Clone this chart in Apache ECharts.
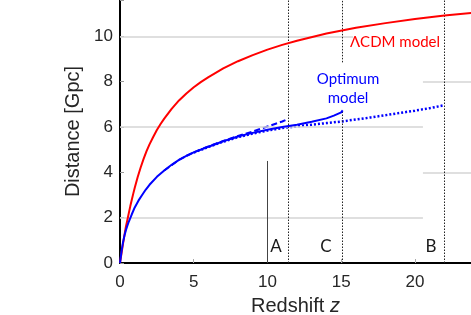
<!DOCTYPE html>
<html>
<head>
<meta charset="utf-8">
<script src="https://cdn.jsdelivr.net/npm/echarts@6/dist/echarts.min.js"></script>
<style>
html,body{margin:0;padding:0;background:#fff;}
#c{width:471px;height:315px;}
</style>
</head>
<body>
<div id="c"></div>
<script>
// ---- data ----
const lcdmZ = [0, 0.1, 0.2, 0.3, 0.4, 0.5, 0.6, 0.7, 0.8, 0.9, 1.0, 1.2, 1.4, 1.6, 1.8, 2.0, 2.25, 2.5, 2.75, 3, 3.5, 4, 4.5, 5, 5.5, 6, 7, 8, 9, 10, 11, 12, 14, 16, 18, 20, 22, 24];
const lcdmD = [0, 0.42, 0.83, 1.22, 1.6, 1.9, 2.21, 2.51, 2.79, 3.06, 3.32, 3.79, 4.21, 4.59, 4.93, 5.23, 5.56, 5.87, 6.13, 6.37, 6.8, 7.17, 7.48, 7.75, 7.99, 8.2, 8.58, 8.9, 9.17, 9.41, 9.62, 9.8, 10.12, 10.38, 10.58, 10.76, 10.92, 11.04];

const optZ = [0, 0.1, 0.2, 0.3, 0.4, 0.5, 0.6, 0.8, 1.0, 1.25, 1.5, 1.75, 2, 2.5, 3, 3.5, 4, 4.5, 5, 6, 7, 8, 9, 10, 11, 12, 13, 14, 14.5, 15, 15.1];
const optD = [0, 0.5, 0.9, 1.2, 1.45, 1.65, 1.83, 2.15, 2.45, 2.75, 3.0, 3.24, 3.45, 3.8, 4.08, 4.33, 4.55, 4.73, 4.88, 5.13, 5.37, 5.58, 5.74, 5.88, 6.0, 6.1, 6.23, 6.38, 6.5, 6.64, 6.73];

const dashZ = [3, 4, 5, 6, 7, 8, 9, 10, 11, 11.3];
const dashD = [4.08, 4.55, 4.88, 5.14, 5.38, 5.6, 5.8, 6.02, 6.24, 6.33];

const dotZ = [5, 6, 7, 8, 9, 10, 11, 12, 13, 14, 15, 16, 17, 18, 19, 20, 21, 22];
const dotD = [4.87, 5.12, 5.35, 5.55, 5.71, 5.84, 5.95, 6.03, 6.1, 6.17, 6.24, 6.33, 6.42, 6.52, 6.62, 6.72, 6.83, 6.96];

// reference lines (data coords)
const gridLeftY = [2, 6, 10];
const gridLeftEnd = [20.54, 20.54, 15.8];
const gridRightY = [4, 8];
const gridRightStart = 20.54;
const dottedV = [[11.4, 0, 11.6], [15.1, 0, 6.75], [15.1, 8.85, 11.6], [22.0, 0, 11.6]];
const solidV = [[10, 0, 4.5]];

const xTicks = [0, 5, 10, 15, 20];
const yTicks = [0, 2, 4, 6, 8, 10];

const zip = (a, b) => a.map((v, i) => [v, b[i]]);
const seg = (x1, y1, x2, y2) => [{coord: [x1, y1]}, {coord: [x2, y2]}];

const gridSegs = gridLeftY.map((y, i) => seg(0, y, gridLeftEnd[i], y))
  .concat(gridRightY.map(y => seg(gridRightStart, y, 23.8, y)));
const dottedSegs = dottedV.map(v => seg(v[0], v[1], v[0], v[2]));
const solidSegs = solidV.map(v => seg(v[0], v[1], v[0], v[2]));

const chart = echarts.init(document.getElementById('c'), null, {renderer: 'canvas'});
const mlBase = {silent: true, symbol: ['none', 'none'], label: {show: false}, animation: false, emphasis: {disabled: true}};
const curve = {showSymbol: false, smooth: false};

chart.setOption({
  animation: false,
  backgroundColor: '#fff',
  grid: {left: 120, right: 0, top: 0, bottom: 52, containLabel: false, outerBoundsMode: 'none'},
  xAxis: {
    type: 'value', min: 0, max: 23.8, interval: 5,
    name: 'Redshift {i|z}', nameLocation: 'middle', nameGap: 33,
    nameTextStyle: {fontSize: 20, color: '#262626', fontFamily: 'Liberation Sans',
      rich: {i: {fontSize: 20, fontStyle: 'italic', color: '#262626', fontFamily: 'Liberation Sans'}}},
    axisLine: {show: true, onZero: false, lineStyle: {color: '#000', width: 2}},
    axisTick: {show: true, inside: true, length: 4, lineStyle: {color: '#aaa'}},
    axisLabel: {fontSize: 17, color: '#262626', fontFamily: 'Liberation Sans', margin: 11,
      formatter: v => (xTicks.indexOf(v) >= 0 ? String(v) : '')},
    splitLine: {show: false}
  },
  yAxis: {
    type: 'value', min: 0, max: 11.6, interval: 2,
    name: 'Distance [Gpc]', nameLocation: 'middle', nameGap: 30, nameRotate: 90,
    nameTextStyle: {fontSize: 20, color: '#262626', fontFamily: 'Liberation Sans'},
    axisLine: {show: true, onZero: false, lineStyle: {color: '#000', width: 2}},
    axisTick: {show: true, inside: true, length: 4, lineStyle: {color: '#999'}},
    axisLabel: {fontSize: 17, color: '#262626', fontFamily: 'Liberation Sans', margin: 7,
      formatter: v => (yTicks.indexOf(v) >= 0 ? String(v) : '')},
    splitLine: {show: false}
  },
  series: [
    {type: 'line', data: [], z: 1, markLine: Object.assign({}, mlBase, {
      lineStyle: {color: '#d4d4d4', width: 1.5, type: 'solid'}, data: gridSegs})},
    {type: 'line', data: [], z: 2, markLine: Object.assign({}, mlBase, {
      lineStyle: {color: '#222', width: 1, type: [1.5, 1.5]}, data: dottedSegs})},
    {type: 'line', data: [], z: 2, markLine: Object.assign({}, mlBase, {
      lineStyle: {color: '#444', width: 1, type: 'solid'}, data: solidSegs})},
    Object.assign({type: 'line', name: 'LCDM', data: zip(lcdmZ, lcdmD), z: 5,
      lineStyle: {color: '#ff0000', width: 2}}, curve),
    Object.assign({type: 'line', name: 'dotted', data: zip(dotZ, dotD), z: 4,
      lineStyle: {color: '#0000ff', width: 2.5, type: [2, 2]}}, curve),
    Object.assign({type: 'line', name: 'dashed', data: zip(dashZ, dashD), z: 4,
      lineStyle: {color: '#0000ff', width: 2, type: [6, 3]}}, curve),
    Object.assign({type: 'line', name: 'Optimum', data: zip(optZ, optD), z: 5,
      lineStyle: {color: '#0000ff', width: 2}}, curve)
  ],
  graphic: [
    {type: 'text', x: 395, y: 42, z: 100, style: {text: 'ΛCDM model', fill: '#ff0000', font: '15px Lato', align: 'center', verticalAlign: 'middle'}},
    {type: 'text', x: 348, y: 79, z: 100, style: {text: 'Optimum', fill: '#0000ff', font: '15px Lato', align: 'center', verticalAlign: 'middle'}},
    {type: 'text', x: 348, y: 98, z: 100, style: {text: 'model', fill: '#0000ff', font: '15px Lato', align: 'center', verticalAlign: 'middle'}},
    {type: 'text', x: 276, y: 247, z: 100, style: {text: 'A', fill: '#1a1a1a', font: '17px Lato', align: 'center', verticalAlign: 'middle'}},
    {type: 'text', x: 326, y: 247, z: 100, style: {text: 'C', fill: '#1a1a1a', font: '17px Lato', align: 'center', verticalAlign: 'middle'}},
    {type: 'text', x: 431, y: 247, z: 100, style: {text: 'B', fill: '#1a1a1a', font: '17px Lato', align: 'center', verticalAlign: 'middle'}}
  ]
});
</script>
</body>
</html>
